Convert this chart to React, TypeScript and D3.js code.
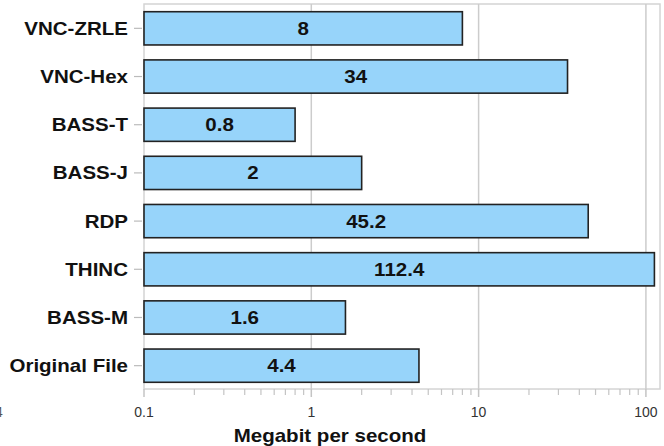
import React from "react";
import * as d3 from "d3";

const categories = ["VNC-ZRLE", "VNC-Hex", "BASS-T", "BASS-J", "RDP", "THINC", "BASS-M", "Original File"];
const values = [8, 34, 0.8, 2, 45.2, 112.4, 1.6, 4.4];
const valueLabels = ["8", "34", "0.8", "2", "45.2", "112.4", "1.6", "4.4"];
const majorTicks = [0.1, 1, 10, 100];
const tickLabels = ["0.1", "1", "10", "100"];
const gridValues = [1, 10, 100];

const W = 664;
const H = 446;
const left = 144;
const right = 660;
const top = 4;
const bottom = 389;
const SX = 1.14;

export default function App() {
  const x = d3.scaleLog().domain([0.1, 121.4]).range([left, right]);
  const y = d3.scaleBand<string>().domain(categories).range([top, bottom + 1]).paddingInner(0.31).paddingOuter(0.16);
  const minor: number[] = [];
  [0.1, 1, 10, 100].forEach((d) => {
    for (let k = 2; k <= 9; k++) {
      const v = d * k;
      if (v <= 121) minor.push(v);
    }
  });
  const font = "'Liberation Sans', Arial, Helvetica, sans-serif";
  return (
    <svg width={W} height={H} style={{ position: "absolute", left: 0, top: 0 }} fontFamily={font}>
      <rect x={0} y={0} width={W} height={H} fill="#fff" />
      <rect x={left} y={top} width={right - left} height={bottom - top} fill="none" stroke="#d4d4d4" strokeWidth={1.5} />
      {gridValues.map((g) => (
        <line key={g} x1={x(g)} x2={x(g)} y1={top} y2={bottom} stroke="#cccccc" strokeWidth={1.5} />
      ))}
      {majorTicks.map((t) => (
        <line key={"M" + t} x1={x(t)} x2={x(t)} y1={bottom} y2={bottom + 8} stroke="#c4c4c4" strokeWidth={1.5} />
      ))}
      {minor.map((t) => (
        <line key={"m" + t} x1={x(t)} x2={x(t)} y1={bottom} y2={bottom + 6} stroke="#c4c4c4" strokeWidth={1.2} />
      ))}
      {majorTicks.map((t, i) => (
        <text key={"l" + t} x={x(t)} y={417} textAnchor="middle" fontSize={14} fill="#333">
          {tickLabels[i]}
        </text>
      ))}
      <text x={-5} y={417} fontSize={14} fill="#555">4</text>
      {categories.map((c, i) => {
        const y0 = y(c)!;
        const bw = y.bandwidth();
        const x1 = x(values[i]);
        const cy = y0 + bw / 2;
        return (
          <g key={c}>
            <line x1={134} x2={142} y1={cy} y2={cy} stroke="#bbbbbb" strokeWidth={1.2} />
            <rect x={left} y={y0} width={x1 - left} height={bw} fill="#97d4fa" stroke="#222" strokeWidth={1.6} />
            <g transform={`translate(${(left + x1) / 2},${cy + 6.5}) scale(${SX},1)`}>
              <text textAnchor="middle" fontSize={18} fontWeight="bold" fill="#111">{valueLabels[i]}</text>
            </g>
            <g transform={`translate(128,${cy + 6.5}) scale(${SX},1)`}>
              <text textAnchor="end" fontSize={18} fontWeight="bold" fill="#111">{c}</text>
            </g>
          </g>
        );
      })}
      <g transform={`translate(330,442) scale(${SX},1)`}>
        <text textAnchor="middle" fontSize={18} fontWeight="bold" fill="#111">Megabit per second</text>
      </g>
    </svg>
  );
}
